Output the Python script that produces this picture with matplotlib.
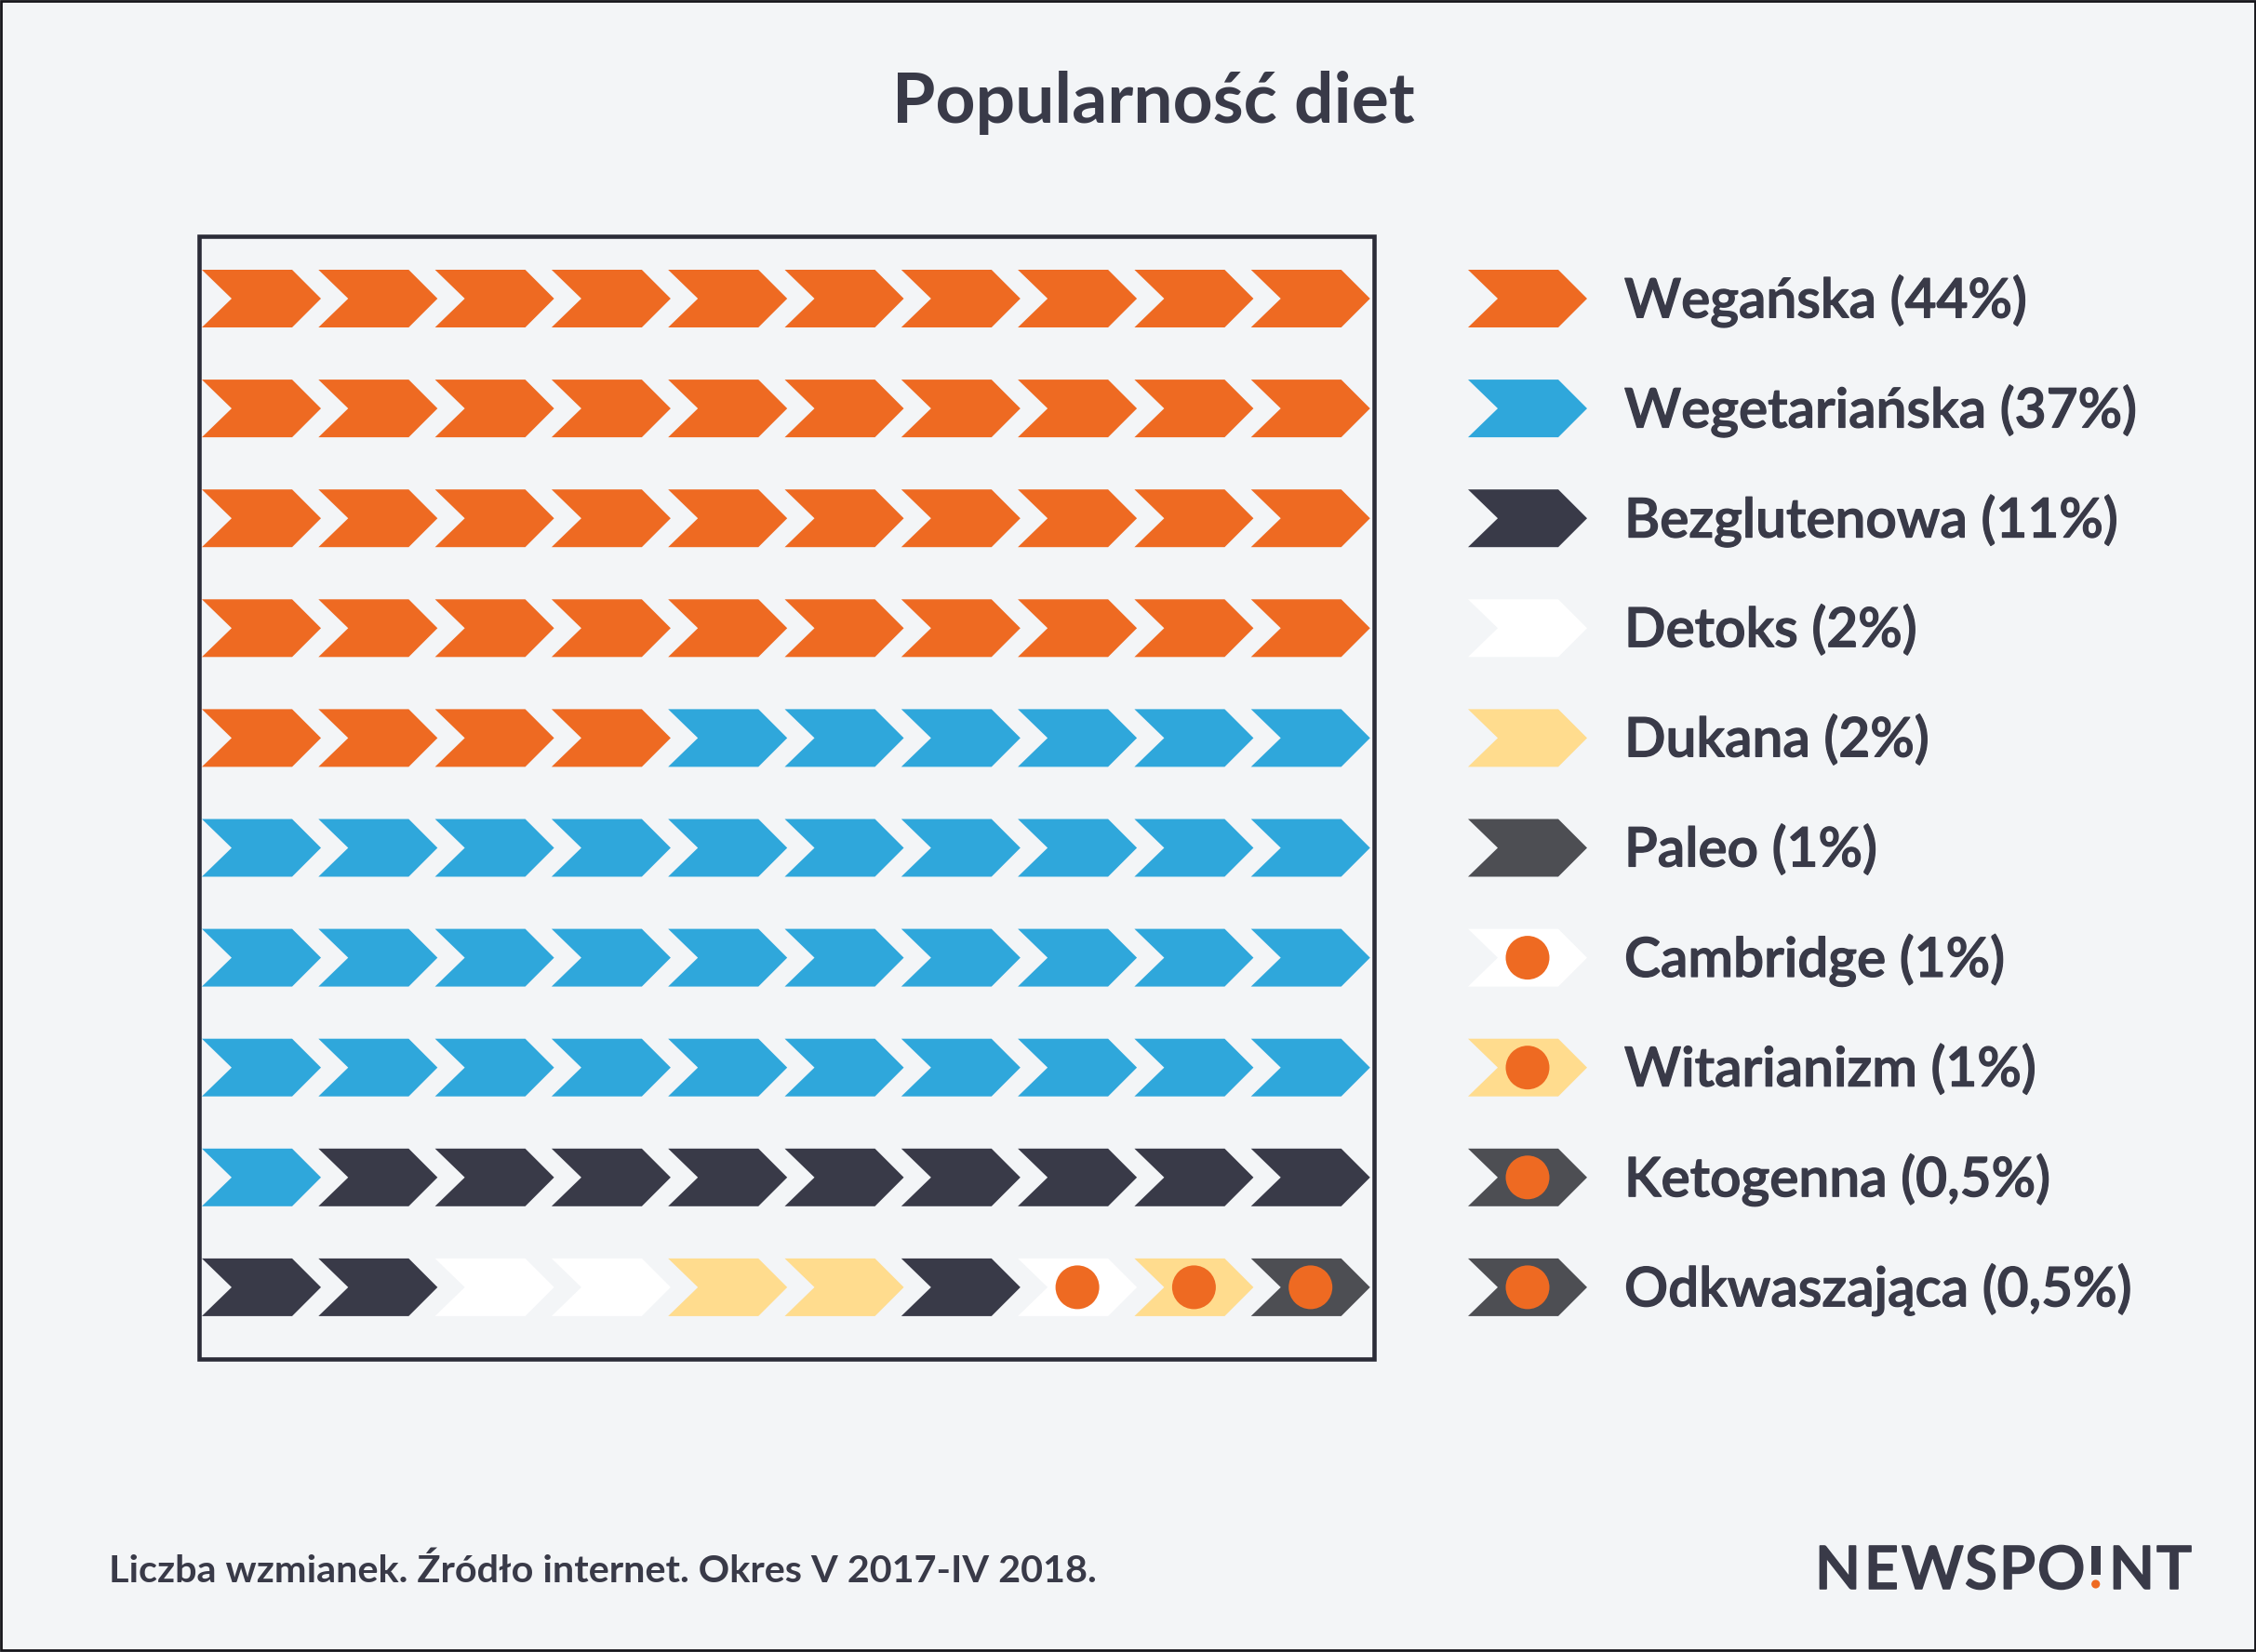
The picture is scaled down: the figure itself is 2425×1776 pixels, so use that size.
import matplotlib
matplotlib.use("Agg")
import matplotlib.pyplot as plt
import matplotlib.patheffects as pe
from matplotlib.patches import Polygon, Circle, Rectangle

TITLE = "Popularność diet"
LABELS = ["Wegańska (44%)", "Wegetariańska (37%)", "Bezglutenowa (11%)", "Detoks (2%)", "Dukana (2%)",
          "Paleo (1%)", "Cambridge (1%)", "Witarianizm (1%)", "Ketogenna (0,5%)", "Odkwaszająca (0,5%)"]
LEG_FILL = ["#ee6a22", "#2fa7db", "#393a48", "#ffffff", "#ffdc8e", "#4d4e53", "#ffffff", "#ffdc8e", "#4d4e53", "#4d4e53"]
LEG_DOT = [0, 0, 0, 0, 0, 0, 1, 1, 1, 1]
GRID_FILL = ["#ee6a22"] * 44 + ["#2fa7db"] * 37 + ["#393a48"] * 11 + ["#ffffff"] * 2 + ["#ffdc8e"] * 2 + ["#393a48", "#ffffff", "#ffdc8e", "#4d4e53"]
GRID_DOT = [0] * 97 + [1, 1, 1]
FOOT = "Liczba wzmianek. Źródło internet. Okres V 2017-IV 2018."
LOGO = ["N", "E", "W", "S", "P", "O", "N", "T"]
LOGO_X = [1951, 2004, 2044, 2112, 2149, 2190, 2267, 2318]

BG = "#f3f5f7"
INK = "#393a48"
ORANGE = "#ee6a22"
W, H = 2425, 1776
fig = plt.figure(figsize=(W / 100, H / 100), dpi=100, facecolor=BG)
ax = fig.add_axes([0, 0, 1, 1])
ax.set_xlim(0, W); ax.set_ylim(H, 0); ax.axis("off")
BOLDER = [pe.withStroke(linewidth=0.9, foreground=INK)]

def chevron(x, y, fill, dot):
    ax.add_patch(Polygon([(x, y - 31), (x + 97, y - 31), (x + 128, y), (x + 97, y + 31), (x, y + 31), (x + 32, y)],
                         closed=True, fc=fill, ec="none", zorder=3))
    if dot:
        ax.add_patch(Circle((x + 64, y), 23.5, fc=ORANGE, ec="none", zorder=4))

X0, Y0, DX, DY = 217, 321, 125.3, 118.1
for i, (f, d) in enumerate(zip(GRID_FILL, GRID_DOT)):
    chevron(X0 + (i % 10) * DX, Y0 + (i // 10) * DY, f, d)

ax.add_patch(Rectangle((214, 254.5), 1262.5, 1206, fc="none", ec="#2b2c38", lw=3.3, zorder=2))
ax.add_patch(Rectangle((1, 1), W - 2, H - 3, fc="none", ec="#15151a", lw=2, zorder=1))

for i, (lab, f, d) in enumerate(zip(LABELS, LEG_FILL, LEG_DOT)):
    y = Y0 + i * DY
    chevron(1578, y, f, d)
    ax.text(1746, y - 3, lab, family="Lato", fontsize=42.2, fontweight="semibold", color=INK,
            va="center_baseline", ha="left", path_effects=BOLDER)

ax.text(1240, 104, TITLE, family="Lato", fontsize=54, fontweight="bold", color=INK, ha="center", va="center_baseline")
ax.text(117, 1685.5, FOOT, family="Lato", fontsize=29.8, fontweight="bold", color=INK, ha="left", va="center_baseline")
for ch, x in zip(LOGO, LOGO_X):
    ax.text(x, 1708, ch, family="Lato", fontsize=46, fontweight="semibold", color=INK, ha="left", va="baseline",
            path_effects=[pe.withStroke(linewidth=1.2, foreground=INK)])
ax.add_patch(Rectangle((2248, 1662), 9.5, 31, fc=INK, ec="none"))
ax.add_patch(Circle((2252.7, 1703), 4.6, fc=ORANGE, ec="none"))
fig.savefig("out.png", dpi=100, facecolor=BG)
